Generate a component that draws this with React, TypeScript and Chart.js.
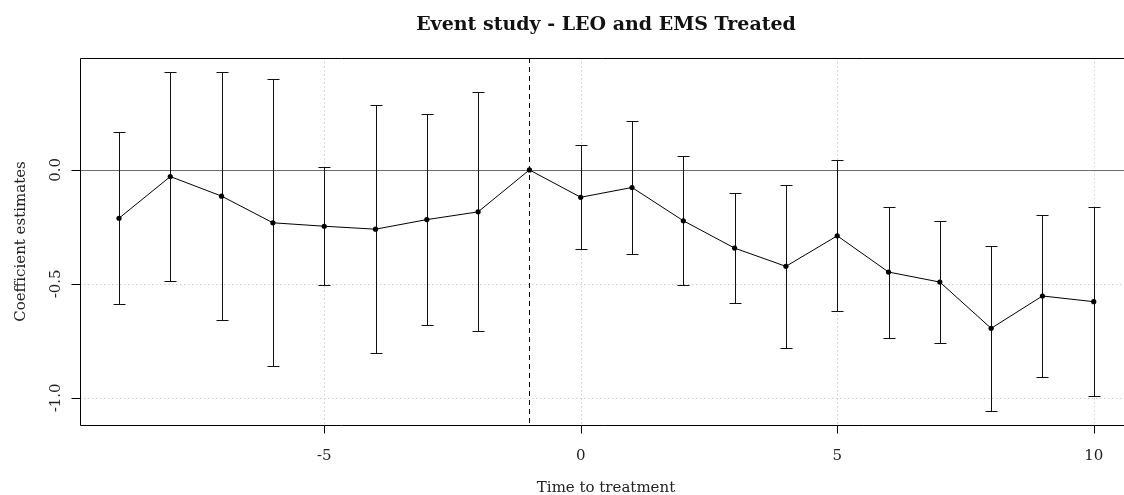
import React, { useEffect, useRef } from "react";
import { Chart, registerables } from "chart.js";

Chart.register(...registerables);

const titleText = "Event study - LEO and EMS Treated";
const xAxisTitle = "Time to treatment";
const yAxisTitle = "Coefficient estimates";

const periods = [-9, -8, -7, -6, -5, -4, -3, -2, -1, 0, 1, 2, 3, 4, 5, 6, 7, 8, 9, 10];
const estimates = [-0.212, -0.029, -0.115, -0.232, -0.247, -0.26, -0.218, -0.184, 0, -0.12, -0.077, -0.223, -0.343, -0.423, -0.289, -0.448, -0.492, -0.695, -0.553, -0.578];
const upperCI = [0.166, 0.431, 0.431, 0.397, 0.015, 0.286, 0.247, 0.34, null, 0.108, 0.215, 0.06, -0.102, -0.067, 0.042, -0.161, -0.222, -0.332, -0.197, -0.164];
const lowerCI = [-0.588, -0.488, -0.658, -0.861, -0.504, -0.804, -0.682, -0.708, null, -0.346, -0.368, -0.507, -0.583, -0.78, -0.621, -0.737, -0.759, -1.059, -0.908, -0.991];

const xTicks = [-5, 0, 5, 10];
const xTickLabels = ["-5", "0", "5", "10"];
const yTicks = [0, -0.5, -1.0];
const yTickLabels = ["0.0", "-0.5", "-1.0"];
const referencePeriod = -1;

const FONT = "'DejaVu Serif', serif";

const decorPlugin = {
  id: "decor",
  beforeDatasetsDraw(chart: any) {
    const ctx = chart.ctx;
    const xs = chart.scales.x;
    const ys = chart.scales.y;
    const a = chart.chartArea;
    ctx.save();
    // dotted grid
    ctx.strokeStyle = "#cfcfcf";
    ctx.lineWidth = 1;
    ctx.setLineDash([1.5, 2.5]);
    xTicks.forEach((t) => {
      const px = Math.round(xs.getPixelForValue(t)) + 0.5;
      ctx.beginPath();
      ctx.moveTo(px, a.top);
      ctx.lineTo(px, a.bottom);
      ctx.stroke();
    });
    yTicks.forEach((t) => {
      const py = Math.round(ys.getPixelForValue(t)) + 0.5;
      ctx.beginPath();
      ctx.moveTo(a.left, py);
      ctx.lineTo(a.right, py);
      ctx.stroke();
    });
    // zero line
    ctx.setLineDash([]);
    ctx.strokeStyle = "#6e6e6e";
    const zy = Math.round(ys.getPixelForValue(0)) + 0.5;
    ctx.beginPath();
    ctx.moveTo(a.left, zy);
    ctx.lineTo(a.right, zy);
    ctx.stroke();
    // reference period dashed line
    ctx.strokeStyle = "#000";
    ctx.setLineDash([5, 4]);
    const rx = Math.round(xs.getPixelForValue(referencePeriod)) + 0.5;
    ctx.beginPath();
    ctx.moveTo(rx, a.top);
    ctx.lineTo(rx, a.bottom);
    ctx.stroke();
    ctx.setLineDash([]);
    // error bars
    ctx.strokeStyle = "#111";
    ctx.lineWidth = 1;
    periods.forEach((p, i) => {
      const hi = upperCI[i];
      const lo = lowerCI[i];
      if (hi === null || lo === null) return;
      const px = Math.round(xs.getPixelForValue(p)) + 0.5;
      const pyh = Math.round(ys.getPixelForValue(hi)) + 0.5;
      const pyl = Math.round(ys.getPixelForValue(lo)) + 0.5;
      ctx.beginPath();
      ctx.moveTo(px, pyh);
      ctx.lineTo(px, pyl);
      ctx.moveTo(px - 6, pyh);
      ctx.lineTo(px + 6, pyh);
      ctx.moveTo(px - 6, pyl);
      ctx.lineTo(px + 6, pyl);
      ctx.stroke();
    });
    ctx.restore();
  },
  afterDraw(chart: any) {
    const ctx = chart.ctx;
    const xs = chart.scales.x;
    const ys = chart.scales.y;
    const a = chart.chartArea;
    ctx.save();
    ctx.strokeStyle = "#000";
    ctx.lineWidth = 1;
    // frame (right side falls outside the picture)
    const L = Math.round(a.left) + 0.5;
    const T = Math.round(a.top) + 0.5;
    const B = Math.round(a.bottom) + 0.5;
    ctx.beginPath();
    ctx.moveTo(a.right + 2, T);
    ctx.lineTo(L, T);
    ctx.lineTo(L, B);
    ctx.lineTo(a.right + 2, B);
    ctx.stroke();
    // tick marks
    ctx.beginPath();
    xTicks.forEach((t) => {
      const px = Math.round(xs.getPixelForValue(t)) + 0.5;
      ctx.moveTo(px, B);
      ctx.lineTo(px, B + 8);
    });
    yTicks.forEach((t) => {
      const py = Math.round(ys.getPixelForValue(t)) + 0.5;
      ctx.moveTo(L, py);
      ctx.lineTo(L - 9, py);
    });
    ctx.stroke();
    // tick labels
    ctx.fillStyle = "#222";
    ctx.font = "15px " + FONT;
    ctx.textAlign = "center";
    ctx.textBaseline = "alphabetic";
    xTicks.forEach((t, i) => {
      ctx.fillText(xTickLabels[i], xs.getPixelForValue(t), 460);
    });
    yTicks.forEach((t, i) => {
      ctx.save();
      ctx.translate(59.5, ys.getPixelForValue(t));
      ctx.rotate(-Math.PI / 2);
      ctx.fillText(yTickLabels[i], 0, 0);
      ctx.restore();
    });
    // axis titles
    ctx.fillText(xAxisTitle, 606, 492);
    ctx.save();
    ctx.translate(25, (a.top + a.bottom) / 2);
    ctx.rotate(-Math.PI / 2);
    ctx.fillText(yAxisTitle, 0, 0);
    ctx.restore();
    // main title
    ctx.fillStyle = "#111";
    ctx.font = "bold 19px " + FONT;
    ctx.fillText(titleText, 606, 30);
    ctx.restore();
  },
};

export default function App() {
  const ref = useRef<HTMLCanvasElement>(null);
  useEffect(() => {
    if (!ref.current) return;
    const chart = new Chart(ref.current, {
      type: "scatter",
      data: {
        datasets: [
          {
            data: periods.map((p, i) => ({ x: p, y: estimates[i] })),
            showLine: true,
            borderColor: "#000",
            borderWidth: 1,
            pointRadius: 2.6,
            pointBackgroundColor: "#000",
            pointBorderWidth: 0,
            clip: false,
          },
        ],
      },
      options: {
        animation: false,
        responsive: false,
        devicePixelRatio: 1,
        layout: { autoPadding: false, padding: { top: 58, left: 0, right: 0, bottom: 0 } },
        plugins: { legend: { display: false }, title: { display: false }, tooltip: { enabled: false } },
        events: [],
        scales: {
          x: {
            type: "linear",
            min: -9.76,
            max: 10.59,
            grid: { display: false, drawTicks: false },
            border: { display: false },
            ticks: { display: false },
            afterFit: (s: any) => {
              s.height = 70;
            },
          },
          y: {
            type: "linear",
            min: -1.119,
            max: 0.491,
            grid: { display: false, drawTicks: false },
            border: { display: false },
            ticks: { display: false },
            afterFit: (s: any) => {
              s.width = 80;
            },
          },
        },
      },
      plugins: [decorPlugin],
    });
    return () => chart.destroy();
  }, []);
  return (
    <div style={{ position: "absolute", left: 0, top: 0, width: 1124, height: 495, background: "#fff" }}>
      <canvas ref={ref} width={1124} height={495} style={{ display: "block", width: 1124, height: 495 }} />
    </div>
  );
}
